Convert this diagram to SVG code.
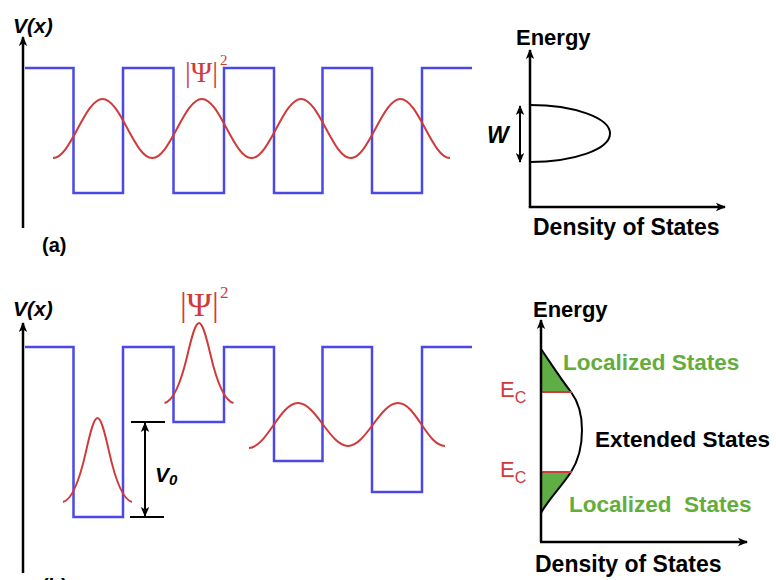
<svg xmlns="http://www.w3.org/2000/svg" width="776" height="580" viewBox="0 0 776 580">
<defs>
<style>
.bg{fill:#ffffff}
.axis{stroke:#000;stroke-width:2.5;fill:none}
.blue{stroke:#4b48e6;stroke-width:2.5;fill:none}
.red{stroke:#d03a3a;stroke-width:2;fill:none}
.blk{stroke:#000;stroke-width:2;fill:none}
.lbl{font-family:"Liberation Sans",Arial,sans-serif;font-weight:bold}
.it{font-style:italic}
.psi{font-family:"Liberation Serif","Times New Roman",serif;fill:#d03a3a}
.ec{font-family:"Liberation Sans",Arial,sans-serif;fill:#d03a3a}
.grn{fill:#64ad3c}
.gfill{fill:#5fae45;stroke:none}
</style>
<marker id="ah" viewBox="0 0 10 10" refX="9" refY="5" markerWidth="10" markerHeight="10" markerUnits="userSpaceOnUse" orient="auto-start-reverse">
<path d="M0,0.8 L10,5 L0,9.2 L2.5,5 Z" fill="#000"/>
</marker>
</defs>
<rect class="bg" x="0" y="0" width="776" height="580"/>

<g id="panel-a-potential">
<path class="blue" d="M25,68 H73.5 V193 H123 V68 H173.5 V193 H224 V68 H274 V193 H322.5 V68 H372 V193 H422 V68 H472"/>
<path class="red" d="M53,158 C71,158 84.6,99 102.6,99 S134.25,158 152.25,158 S183.9,99 201.9,99 S233.5,158 251.5,158 S283.1,99 301.1,99 S332.75,158 350.75,158 S382.4,99 400.4,99 S432,158 450,158"/>
<text class="psi" x="185" y="82" font-size="29">|Ψ|</text>
<text class="psi" x="220" y="65" font-size="15">2</text>
<text class="lbl it" x="13" y="33" font-size="21">V(x)</text>
<text class="lbl" x="42" y="252" font-size="20">(a)</text>
</g>

<g id="panel-a-dos">
<path class="blk" d="M530,105 A80,28.5 0 0 1 530,162"/>
<text class="lbl" x="516" y="45" font-size="22">Energy</text>
<text class="lbl it" x="487" y="143" font-size="23">W</text>
<text class="lbl" x="533" y="235" font-size="23">Density of States</text>
</g>

<g id="panel-b-potential">
<path class="blue" d="M25,347 H73.5 V517 H123 V347 H173.5 V422 H224 V347 H274 V461 H322.5 V347 H372 V492 H422 V347 H472"/>
<path class="red" d="M63,502 C70.67,500.1 78.33,485.8 86,451.4 C89.83,434.2 93.67,418 97.5,418 C101.33,418 105.17,434.2 109,451.4 C116.67,485.8 124.33,500.1 132,502"/>
<path class="red" d="M164.5,403 C172.17,401.2 179.83,387.6 187.5,354.8 C191.33,338.4 195.17,323 199,323 C202.83,323 206.67,338.4 210.5,354.8 C218.17,387.6 225.83,401.2 233.5,403"/>
<path class="red" d="M249,448 C267,447 280,403 298,403 S330,446 348,446 S380,403 398,403 S427,446 445,446"/>
<line class="blk" x1="131" y1="422" x2="165" y2="422"/>
<line class="blk" x1="130" y1="517" x2="164" y2="517"/>
<text class="psi" x="180" y="316" font-size="34">|Ψ|</text>
<text class="psi" x="220" y="298" font-size="17">2</text>
<text class="lbl it" x="155" y="482" font-size="21">V<tspan font-size="15" dy="3">0</tspan></text>
<text class="lbl it" x="13" y="316" font-size="21">V(x)</text>
<text class="lbl" x="42" y="593" font-size="20">(b)</text>
</g>

<g id="panel-b-dos">
<path class="gfill" d="M541,349 C550,362 560,378 571,392 L541,392 Z"/>
<path class="gfill" d="M541,472 L571,472 C562,486 548,500 541,513 Z"/>
<path class="blk" d="M541,349 C550,362 560,378 571,392 C580,404 582,418 582,430 C582,443 580,458 571,472 C562,486 548,500 541,513"/>
<line class="red" x1="541" y1="392" x2="572" y2="392" stroke-width="2.5"/>
<line class="red" x1="541" y1="472" x2="572" y2="472" stroke-width="2.5"/>
<text class="ec" x="500" y="397" font-size="22">E<tspan font-size="16" dy="6">C</tspan></text>
<text class="ec" x="500" y="477" font-size="22">E<tspan font-size="16" dy="6">C</tspan></text>
<text class="lbl" x="533" y="317" font-size="22">Energy</text>
<text class="lbl grn" x="563" y="370" font-size="22.5">Localized States</text>
<text class="lbl" x="595" y="447" font-size="22.5">Extended States</text>
<text class="lbl grn" x="569" y="512" font-size="22.5" xml:space="preserve">Localized  States</text>
<text class="lbl" x="535" y="572" font-size="23">Density of States</text>
</g>

<g id="connectors">
<line class="axis" x1="23" y1="228" x2="23" y2="37" marker-end="url(#ah)"/>
<line class="axis" x1="530" y1="207" x2="530" y2="50" marker-end="url(#ah)"/>
<polyline class="axis" points="530,206 530,207 725,207" marker-end="url(#ah)"/>
<line class="blk" x1="520" y1="106" x2="520" y2="162" marker-start="url(#ah)" marker-end="url(#ah)"/>
<line class="axis" x1="23" y1="573" x2="23" y2="323" marker-end="url(#ah)"/>
<line class="blk" x1="145" y1="423" x2="145" y2="516" marker-start="url(#ah)" marker-end="url(#ah)"/>
<line class="axis" x1="541" y1="542" x2="541" y2="320" marker-end="url(#ah)"/>
<line class="axis" x1="540" y1="542" x2="747" y2="542" marker-end="url(#ah)"/>
</g>
</svg>
